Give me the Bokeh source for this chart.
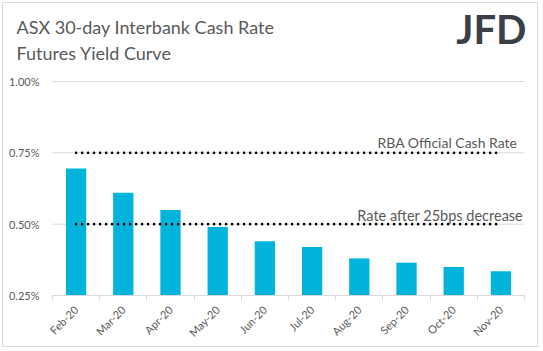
import math
from bokeh.plotting import figure
from bokeh.models import (FixedTicker, Label, ColumnDataSource, CustomJSTickFormatter)
from bokeh.core.properties import value
from bokeh.embed import file_html
from bokeh.resources import INLINE

# ---- data ----
months = ["Feb-20", "Mar-20", "Apr-20", "May-20", "Jun-20",
          "Jul-20", "Aug-20", "Sep-20", "Oct-20", "Nov-20"]
yields = [0.695, 0.61, 0.55, 0.49, 0.44, 0.42, 0.38, 0.365, 0.35, 0.335]
rba_rate = 0.75
cut_rate = 0.50
y_ticks = [0.25, 0.50, 0.75, 1.00]
title_lines = ["ASX 30-day Interbank Cash Rate", "Futures Yield Curve"]
logo_text = "JFD"

TXT = "#595959"
GRID = "#d9d9d9"
BAR = "#00b4dc"
FONT = "Lato"

n = len(months)
xs = [i + 0.5 for i in range(n)]

# canvas geometry (px): plot area spans 49..521 horizontally, 78..292 vertically
W, H = 536, 345
PL, PR, PT, PB = 49, 521, 78, 292
ppx = (PR - PL) / n
ppy = (PB - PT) / (y_ticks[-1] - y_ticks[0])
x_start = -PL / ppx
x_end = n + (W - PR) / ppx
y_start = y_ticks[0] - (H - PB) / ppy
y_end = y_ticks[-1] + PT / ppy

p = figure(width=W, height=H, output_backend="svg", toolbar_location=None,
           x_range=(x_start, x_end), y_range=(y_start, y_end),
           min_border_left=0, min_border_right=0, min_border_top=0,
           min_border_bottom=0)
p.styles = {"margin": "2px", "border": "1px solid #d9d9d9"}
p.outline_line_color = None
p.background_fill_color = "white"
p.border_fill_color = "white"
p.xgrid.grid_line_color = None
p.ygrid.grid_line_color = None

# horizontal gridlines spanning the category area
p.segment(x0=[0] * len(y_ticks), x1=[n] * len(y_ticks), y0=y_ticks, y1=y_ticks,
          line_color=GRID, line_width=1)

src = ColumnDataSource(dict(x=xs, y=yields))
p.vbar(x="x", top="y", bottom=y_ticks[0], width=0.43, source=src,
       fill_color=BAR, line_color=None)

# reference lines (dotted)
p.line(x=[xs[0], xs[-1]], y=[rba_rate, rba_rate], line_color="black",
       line_width=2.6, line_dash="0 6", line_cap="round")
p.line(x=[xs[0], xs[-1]], y=[cut_rate, cut_rate], line_color="black",
       line_width=2.6, line_dash="0 6", line_cap="round")

p.text(x=[n - 0.15], y=[rba_rate], text=["RBA Official Cash Rate"],
       text_align="right", text_baseline="bottom", y_offset=-2,
       text_font=value(FONT), text_font_size="14px", text_color=TXT)
p.text(x=[n - 0.03], y=[cut_rate], text=["Rate after 25bps decrease"],
       text_align="right", text_baseline="bottom", y_offset=0,
       text_font=value(FONT), text_font_size="14.5px", text_color=TXT)

# x axis, fixed at the bottom of the value area
xa = p.xaxis[0]
xa.fixed_location = y_ticks[0]
xa.bounds = (0, n)
xa.ticker = FixedTicker(ticks=xs, minor_ticks=list(range(n + 1)))
xa.major_label_overrides = {x: m for x, m in zip(xs, months)}
xa.major_tick_line_color = None
xa.minor_tick_line_color = GRID
xa.minor_tick_in = 0
xa.minor_tick_out = 5
xa.axis_line_color = GRID
xa.major_label_orientation = math.pi / 4
xa.major_label_text_font = FONT
xa.major_label_text_font_size = "11px"
xa.major_label_text_color = TXT
xa.major_label_standoff = 6

# y axis, fixed at the left edge of the category area
ya = p.yaxis[0]
ya.fixed_location = 0
ya.ticker = FixedTicker(ticks=y_ticks)
ya.formatter = CustomJSTickFormatter(code="return tick.toFixed(2) + '%';")
ya.axis_line_color = None
ya.major_tick_line_color = None
ya.minor_tick_line_color = None
ya.major_label_text_font = FONT
ya.major_label_text_font_size = "11px"
ya.major_label_text_color = TXT
ya.major_label_standoff = 7

# titles and logo (screen units relative to the frame's bottom-left)
p.add_layout(Label(x=13, y=H - 30 + 7, x_units="screen", y_units="screen",
                   text=title_lines[0], text_font=FONT, text_font_size="18px",
                   text_color=TXT, text_baseline="alphabetic"))
p.add_layout(Label(x=13, y=H - 56 + 7, x_units="screen", y_units="screen",
                   text=title_lines[1], text_font=FONT, text_font_size="18px",
                   text_color=TXT, text_baseline="alphabetic"))
p.add_layout(Label(x=523, y=H - 41 + 16, x_units="screen", y_units="screen",
                   text=logo_text, text_font=FONT, text_font_size="40px",
                   text_font_style="bold", text_color="#3b4048",
                   text_align="right", text_baseline="alphabetic"))

open("out.html", "w").write(file_html(p, INLINE))
